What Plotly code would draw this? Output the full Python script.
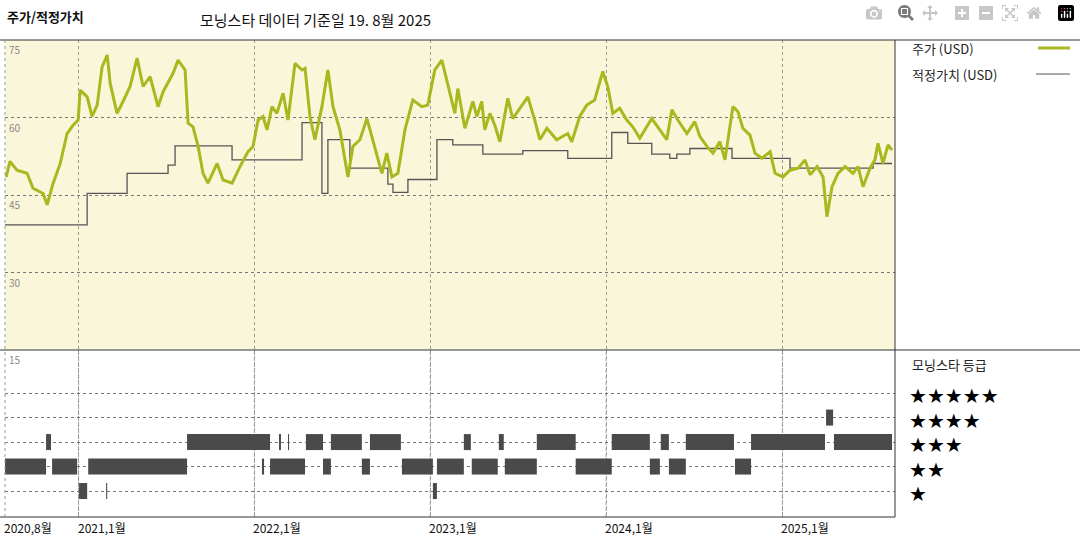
import datetime as dt
import plotly.graph_objects as go

# price (decimal year, USD)
price_t = [2020.590, 2020.611, 2020.651, 2020.708, 2020.742, 2020.799, 2020.822, 2020.856, 2020.896, 2020.935,
           2020.969, 2020.998, 2021.009, 2021.049, 2021.077, 2021.106, 2021.134, 2021.163, 2021.180, 2021.219,
           2021.253, 2021.293, 2021.333, 2021.367, 2021.407, 2021.452, 2021.481, 2021.538, 2021.566, 2021.606,
           2021.623, 2021.651, 2021.680, 2021.708, 2021.736, 2021.788, 2021.822, 2021.873, 2021.918, 2021.964,
           2021.992, 2022.021, 2022.049, 2022.072, 2022.100, 2022.128, 2022.163, 2022.191, 2022.231, 2022.271,
           2022.288, 2022.316, 2022.344, 2022.384, 2022.418, 2022.447, 2022.486, 2022.532, 2022.560, 2022.600,
           2022.640, 2022.685, 2022.725, 2022.753, 2022.782, 2022.816, 2022.856, 2022.901, 2022.952, 2022.986,
           2023.026, 2023.066, 2023.100, 2023.140, 2023.157, 2023.197, 2023.242, 2023.265, 2023.293, 2023.310,
           2023.339, 2023.367, 2023.396, 2023.441, 2023.469, 2023.521, 2023.555, 2023.594, 2023.623, 2023.663,
           2023.719, 2023.782, 2023.805, 2023.850, 2023.890, 2023.935, 2023.981, 2024.009, 2024.038, 2024.077,
           2024.117, 2024.151, 2024.191, 2024.259, 2024.305, 2024.344, 2024.373, 2024.407, 2024.458, 2024.503,
           2024.532, 2024.572, 2024.606, 2024.645, 2024.674, 2024.719, 2024.748, 2024.776, 2024.816, 2024.844,
           2024.884, 2024.930, 2024.958, 2025.003, 2025.043, 2025.089, 2025.128, 2025.157, 2025.197, 2025.231,
           2025.253, 2025.282, 2025.316, 2025.356, 2025.401, 2025.430, 2025.458, 2025.498, 2025.526, 2025.543,
           2025.572, 2025.600, 2025.623]
price_v = [48.5, 51.5, 49.8, 49.2, 46.3, 45.3, 43.1, 47.3, 51.1, 56.9,
           58.5, 59.5, 65.3, 64.0, 60.2, 62.4, 69.8, 72.1, 66.6, 60.8,
           63.1, 66.0, 71.5, 66.0, 67.9, 62.1, 65.0, 68.6, 71.1, 69.2,
           58.9, 58.2, 54.4, 49.2, 47.3, 51.1, 47.9, 47.3, 50.5, 53.4,
           54.4, 59.5, 60.2, 57.6, 62.1, 60.8, 64.7, 59.5, 70.5, 69.2,
           69.5, 60.2, 55.7, 62.1, 69.2, 62.1, 57.6, 48.5, 54.4, 55.7,
           59.8, 54.4, 49.2, 53.1, 48.5, 49.2, 57.6, 63.4, 62.1, 62.4,
           69.2, 71.1, 66.6, 60.8, 65.6, 57.9, 63.1, 60.2, 63.1, 57.6,
           60.8, 58.5, 55.3, 63.7, 59.8, 62.4, 64.0, 59.5, 55.7, 57.9,
           55.7, 56.9, 55.3, 60.2, 62.4, 63.4, 68.9, 66.0, 60.8, 61.8,
           59.5, 58.2, 56.0, 59.8, 57.6, 55.7, 61.5, 59.5, 56.9, 59.2,
           56.3, 54.4, 53.1, 55.3, 51.8, 62.1, 61.1, 57.9, 56.6, 53.1,
           52.1, 53.4, 49.2, 48.5, 49.8, 50.2, 51.8, 48.9, 50.5, 48.5,
           40.8, 46.6, 49.2, 50.5, 49.2, 50.5, 46.6, 50.2, 51.8, 55.0,
           51.1, 54.7, 53.7]

# fair value steps (decimal year, USD)
fair_t = [2020.583, 2021.049, 2021.276, 2021.509, 2021.549, 2021.873, 2022.271, 2022.384, 2022.418, 2022.543,
          2022.759, 2022.788, 2022.873, 2023.038, 2023.128, 2023.299, 2023.526, 2023.782, 2024.032, 2024.123,
          2024.259, 2024.361, 2024.401, 2024.475, 2024.714, 2025.043, 2025.515, 2025.623]
fair_v = [39.2, 45.3, 49.2, 50.8, 54.5, 51.8, 59.0, 45.3, 55.7, 50.2,
          47.1, 45.5, 48.0, 55.7, 54.7, 52.9, 53.6, 52.1, 57.1, 55.0,
          52.9, 52.1, 52.9, 54.0, 52.1, 50.2, 51.1, 51.1]

# star rating periods (start, end) per star level
rating_periods = {
    1: [(2021.003, 2021.049), (2021.157, 2021.163), (2023.015, 2023.038)],
    2: [(2020.583, 2020.816), (2020.850, 2020.992), (2021.055, 2021.617), (2022.043, 2022.055),
        (2022.089, 2022.288), (2022.390, 2022.435), (2022.611, 2022.657), (2022.839, 2023.015),
        (2023.038, 2023.191), (2023.236, 2023.384), (2023.424, 2023.606), (2023.827, 2024.032),
        (2024.248, 2024.305), (2024.356, 2024.452), (2024.731, 2024.822)],
    3: [(2020.816, 2020.844), (2021.617, 2022.089), (2022.140, 2022.151), (2022.191, 2022.197),
        (2022.293, 2022.390), (2022.435, 2022.611), (2022.657, 2022.833), (2023.191, 2023.231),
        (2023.390, 2023.418), (2023.606, 2023.827), (2024.032, 2024.248), (2024.310, 2024.356),
        (2024.452, 2024.725), (2024.822, 2025.242), (2025.293, 2025.623)],
    4: [(2025.248, 2025.288)],
}

tick_dates = ["2021-01-01", "2022-01-01", "2023-01-01", "2024-01-01", "2025-01-01"]
tick_text = ["2021,1월", "2022,1월", "2023,1월", "2024,1월", "2025,1월"]
first_label = "2020,8월"


def to_date(y):
    year = int(y)
    start = dt.datetime(year, 1, 1)
    return start + (dt.datetime(year + 1, 1, 1) - start) * (y - year)


FONT = "Noto Sans CJK KR"
GREEN = "#a9b81e"
x0, x1 = to_date(2020.583), to_date(2025.640)

fig = go.Figure()
fig.add_trace(go.Scatter(x=[to_date(t) for t in fair_t], y=fair_v, mode="lines", line_shape="hv",
                         line=dict(color="#555555", width=1.3), yaxis="y"))
fig.add_trace(go.Scatter(x=[to_date(t) for t in price_t], y=price_v, mode="lines",
                         line=dict(color=GREEN, width=3), yaxis="y"))

for star, periods in rating_periods.items():
    xs, ys = [], []
    for a, b in periods:
        xs += [to_date(a), to_date(b), None]
        ys += [star, star, None]
    fig.add_trace(go.Scatter(x=xs, y=ys, mode="lines", line=dict(color="#4a4a4a", width=16), yaxis="y2"))

XD = [5 / 1080, 895 / 1080]
TOP = [190 / 540, 500 / 540]
BOT = [23 / 540, 190 / 540]

fig.update_layout(
    width=1080, height=540, margin=dict(l=0, r=0, t=0, b=0),
    paper_bgcolor="white", plot_bgcolor="white", showlegend=False,
    font=dict(family=FONT, color="#222"),
    xaxis=dict(domain=XD, range=[x0, x1], tickvals=tick_dates, showticklabels=False,
               showgrid=True, gridcolor="#999", griddash="dot", gridwidth=1, zeroline=False),
    yaxis=dict(domain=TOP, range=[15, 75], tickvals=[30, 45, 60], showticklabels=False,
               showgrid=True, gridcolor="#777", griddash="dot", zeroline=False),
    yaxis2=dict(domain=BOT, range=[-0.06, 6.76], tickvals=[1, 2, 3, 4, 5], showticklabels=False,
                showgrid=True, gridcolor="#777", griddash="dot", zeroline=False),
)

# vertical gridlines in the rating panel
for d in tick_dates:
    fig.add_shape(type="line", xref="x", yref="paper", x0=d, x1=d, y0=BOT[0], y1=BOT[1],
                  line=dict(color="#999", width=1, dash="dot"), layer="below")

# yellow background of price panel
fig.add_shape(type="rect", xref="paper", yref="paper", x0=XD[0], x1=XD[1], y0=TOP[0], y1=TOP[1],
              fillcolor="#faf6da", line_width=0, layer="below")
# frame lines
frame = [(0, 1, TOP[1], TOP[1]), (0, 1, TOP[0], TOP[0]), (0, XD[1], BOT[0], BOT[0]),
         (XD[1], XD[1], BOT[0], TOP[1])]
for a, b, c, d in frame:
    fig.add_shape(type="line", xref="paper", yref="paper", x0=a, x1=b, y0=c, y1=d,
                  line=dict(color="#333", width=1))
fig.add_shape(type="line", xref="paper", yref="paper", x0=XD[0], x1=XD[0], y0=BOT[0], y1=TOP[1],
              line=dict(color="#999", width=1, dash="dot"))

for v in [75, 60, 45, 30]:
    fig.add_annotation(x=XD[0], xref="paper", y=v, yref="y", text=str(v), showarrow=False,
                       xanchor="left", yanchor="top", xshift=2, font=dict(size=10, color="#888"))
fig.add_annotation(x=XD[0], xref="paper", y=BOT[1], yref="paper", text="15", showarrow=False,
                   xanchor="left", yanchor="top", xshift=2, font=dict(size=10, color="#888"))

fig.add_annotation(x=XD[0], xref="paper", y=BOT[0], yref="paper", text=first_label, showarrow=False,
                   xanchor="left", yanchor="top", xshift=-3, font=dict(size=12, color="#111"))
for d, t in zip(tick_dates, tick_text):
    fig.add_annotation(x=d, xref="x", y=BOT[0], yref="paper", text=t, showarrow=False,
                       xanchor="left", yanchor="top", xshift=-3, font=dict(size=12, color="#111"))

fig.add_annotation(x=5 / 1080, y=1 - 17 / 540, xref="paper", yref="paper", text="<b>주가/적정가치</b>",
                   showarrow=False, xanchor="left", yanchor="middle", font=dict(size=13, color="#111"))
fig.add_annotation(x=198 / 1080, y=1 - 20 / 540, xref="paper", yref="paper",
                   text="모닝스타 데이터 기준일 19. 8월 2025", showarrow=False,
                   xanchor="left", yanchor="middle", font=dict(size=15, color="#111"))

# right-hand legend
fig.add_annotation(x=910 / 1080, y=1 - 48 / 540, xref="paper", yref="paper", text="주가 (USD)",
                   showarrow=False, xanchor="left", yanchor="middle", font=dict(size=13))
fig.add_annotation(x=910 / 1080, y=1 - 74 / 540, xref="paper", yref="paper", text="적정가치 (USD)",
                   showarrow=False, xanchor="left", yanchor="middle", font=dict(size=13))
fig.add_shape(type="line", xref="paper", yref="paper", x0=1038 / 1080, x1=1070 / 1080,
              y0=1 - 48 / 540, y1=1 - 48 / 540, line=dict(color=GREEN, width=3))
fig.add_shape(type="line", xref="paper", yref="paper", x0=1036 / 1080, x1=1070 / 1080,
              y0=1 - 74 / 540, y1=1 - 74 / 540, line=dict(color="#555", width=1))

fig.add_annotation(x=910 / 1080, y=1 - 364 / 540, xref="paper", yref="paper", text="모닝스타 등급",
                   showarrow=False, xanchor="left", yanchor="middle", font=dict(size=13))
for star in range(1, 6):
    fig.add_annotation(x=907 / 1080, y=star, xref="paper", yref="y2", text="★" * star,
                       showarrow=False, xanchor="left", yanchor="middle", yshift=-3,
                       font=dict(size=20, color="#000", family="DejaVu Sans"))

fig.write_html("out.html", post_script="document.body.style.margin='0';")
